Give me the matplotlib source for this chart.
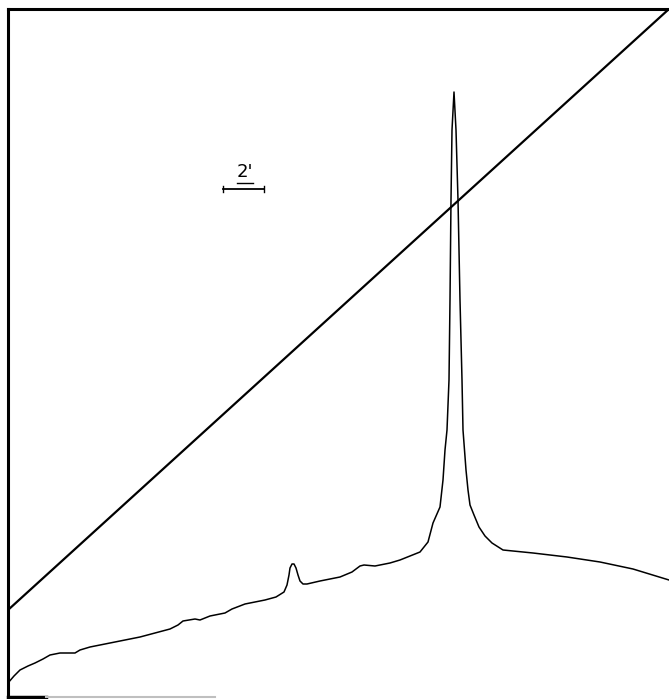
import numpy as np
import matplotlib
matplotlib.use("Agg")
import matplotlib.pyplot as plt

# detector trace (time, signal)
time = [0, 6, 12, 20, 27, 35, 42, 52, 67, 72, 82, 92, 112, 132,
        147, 162, 170, 175, 187, 192, 202, 217, 224, 237,
        257, 268, 276, 279, 281, 282, 284, 286, 288, 290, 292, 295, 299,
        312, 332, 344, 352, 356, 367, 382, 392, 412, 420,
        425, 432, 435, 437, 439, 441, 442, 443, 444, 446,
        448, 450, 452, 454, 455, 458, 460, 462, 466, 471, 477, 484,
        495, 525, 559, 592, 625, 661]
signal = [14, 21, 27, 31, 34, 38, 42, 44, 44, 47, 50, 52, 56, 60,
          64, 68, 72, 76, 78, 77, 81, 84, 88, 93,
          97, 100, 105, 112, 122, 129, 133, 133, 129, 122, 116, 113, 113,
          116, 120, 125, 131, 132, 131, 134, 137, 145, 155,
          174, 190, 217, 247, 267, 317, 397, 497, 567, 605,
          567, 497, 397, 317, 267, 227, 207, 192, 182, 170, 161, 154,
          147, 144, 140, 135, 128, 117]

# temperature programme ramp (straight line)
ramp_t = [0, 661]
ramp_y = [87, 688]

fig = plt.figure(figsize=(6.69, 6.99), dpi=100)
ax = fig.add_axes([8 / 669, 2 / 699, 661 / 669, 688 / 699])
ax.set_xlim(0, 661)
ax.set_ylim(0, 688)

ax.plot(ramp_t, ramp_y, color="black", lw=1.6, solid_capstyle="butt")
ax.plot(time, signal, color="black", lw=1.1, solid_joinstyle="round")

# scale bar, 2 minutes
ax.plot([215, 256], [508, 508], color="black", lw=1.3)
ax.plot([215, 215], [505, 511], color="black", lw=1.0)
ax.plot([256, 256], [505, 511], color="black", lw=1.0)
ax.text(237, 516, "2'", ha="center", va="bottom", fontsize=13)
ax.plot([229, 245], [514, 514], color="black", lw=1.0)

for s in ["right", "bottom"]:
    ax.spines[s].set_visible(False)
ax.spines["left"].set_linewidth(2.2)
ax.spines["top"].set_linewidth(2.2)
ax.plot([0, 38], [0, 0], color="black", lw=2.5, clip_on=False)
ax.plot([38, 207], [0, 0], color="0.75", lw=1.5, clip_on=False)
ax.set_xticks([])
ax.set_yticks([])

fig.savefig("out.png", dpi=100)
